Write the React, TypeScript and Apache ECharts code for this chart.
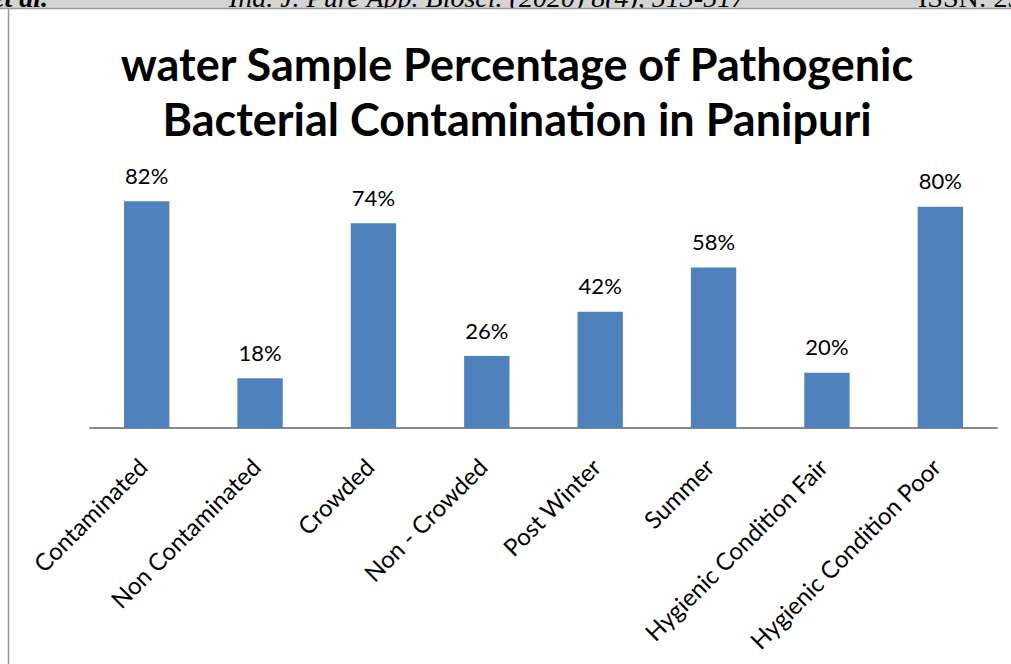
import React, { useEffect, useRef } from "react";
import * as echarts from "echarts";

const categories = [
  "Contaminated",
  "Non Contaminated",
  "Crowded",
  "Non - Crowded",
  "Post Winter",
  "Summer",
  "Hygienic Condition Fair",
  "Hygienic Condition Poor",
];
const values = [82, 18, 74, 26, 42, 58, 20, 80];
const titleLines = [
  "water Sample Percentage of Pathogenic",
  "Bacterial Contamination in Panipuri",
];
const headerLeft = "et al.";
const headerCenter = "Ind. J. Pure App. Biosci. (2020) 8(4), 513-517";
const headerRight = "ISSN: 2320";

export default function App() {
  const ref = useRef<HTMLDivElement>(null);
  useEffect(() => {
    if (!ref.current) return;
    const chart = echarts.init(ref.current, undefined, { renderer: "svg" });
    const font = "Lato, 'Open Sans', sans-serif";
    const serif = "'Liberation Serif', 'DejaVu Serif', serif";
    chart.setOption({
      animation: false,
      backgroundColor: "#ffffff",
      grid: { left: 90, right: 14, top: 179, bottom: 236, containLabel: false },
      xAxis: {
        type: "category",
        data: categories,
        axisLine: { show: true, lineStyle: { color: "#8a8a8a", width: 2 } },
        axisTick: { show: false },
        axisLabel: {
          rotate: 45,
          interval: 0,
          margin: 30,
          verticalAlign: "middle",
          align: "right",
          padding: [0, 6, 0, 0],
          fontFamily: font,
          fontSize: 24,
          color: "#000",
        },
      },
      yAxis: {
        type: "value",
        min: 0,
        max: 90,
        show: false,
        splitLine: { show: false },
      },
      series: [
        {
          type: "bar",
          data: values,
          barWidth: "40%",
          itemStyle: { color: "#4f81bd" },
          label: {
            show: true,
            position: "top",
            distance: 15,
            formatter: "{c}%",
            fontFamily: font,
            fontSize: 22,
            color: "#000",
          },
        },
      ],
      graphic: [
        {
          type: "text",
          x: -8,
          y: 11,
          z: 1,
          style: {
            text: headerLeft,
            font: `italic bold 28px ${serif}`,
            fill: "#000",
            textAlign: "left",
            textVerticalAlign: "bottom",
          },
        },
        {
          type: "text",
          x: 487,
          y: 11,
          z: 1,
          style: {
            text: headerCenter,
            font: `italic 28px ${serif}`,
            fill: "#000",
            textAlign: "center",
            textVerticalAlign: "bottom",
          },
        },
        {
          type: "text",
          x: 918,
          y: 11,
          z: 1,
          style: {
            text: headerRight,
            font: `28px ${serif}`,
            fill: "#000",
            textAlign: "left",
            textVerticalAlign: "bottom",
          },
        },
        {
          type: "rect",
          z: 0,
          shape: { x: 0, y: 0, width: 1011, height: 8 },
          style: { fill: "#d4d4d4" },
        },
        {
          type: "rect",
          z: 2,
          shape: { x: 0, y: 8, width: 1011, height: 14 },
          style: { fill: "#ffffff" },
        },
        {
          type: "line",
          z: 3,
          shape: { x1: 0, y1: 8.5, x2: 1011, y2: 8.5 },
          style: { stroke: "#9a9a9a", lineWidth: 1.5 },
        },
        {
          type: "line",
          z: 3,
          shape: { x1: 8.5, y1: 8, x2: 8.5, y2: 664 },
          style: { stroke: "#9a9a9a", lineWidth: 1.5 },
        },
        {
          type: "text",
          x: 517,
          y: 64,
          z: 3,
          style: {
            text: titleLines[0],
            font: `bold 45px ${font}`,
            fill: "#000",
            textAlign: "center",
            textVerticalAlign: "middle",
          },
        },
        {
          type: "text",
          x: 517,
          y: 119,
          z: 3,
          style: {
            text: titleLines[1],
            font: `bold 45px ${font}`,
            fill: "#000",
            textAlign: "center",
            textVerticalAlign: "middle",
          },
        },
      ],
    });
    return () => chart.dispose();
  }, []);
  return (
    <div
      ref={ref}
      style={{ position: "fixed", left: 0, top: 0, width: 1011, height: 664 }}
    />
  );
}
